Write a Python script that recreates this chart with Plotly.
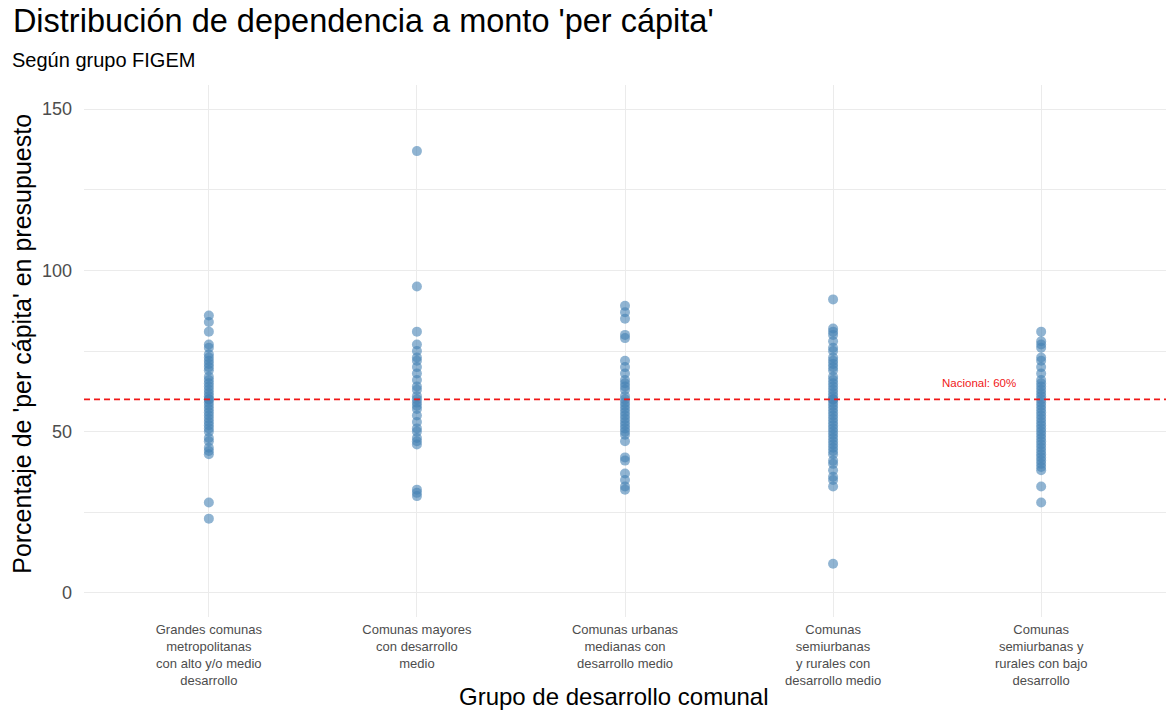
import plotly.graph_objects as go

categories = [
    "Grandes comunas<br>metropolitanas<br>con alto y/o medio<br>desarrollo",
    "Comunas mayores<br>con desarrollo<br>medio",
    "Comunas urbanas<br>medianas con<br>desarrollo medio",
    "Comunas<br>semiurbanas<br>y rurales con<br>desarrollo medio",
    "Comunas<br>semiurbanas y<br>rurales con bajo<br>desarrollo",
]

grupo1 = [86, 84, 81, 77, 76, 74, 73, 72, 71, 70, 69, 67, 66, 65, 64, 63, 62, 61, 60, 60,
          59, 58, 57, 56, 55, 54, 53, 52, 51, 50, 48, 47, 45, 44, 43, 28, 23]
grupo2 = [137, 95, 81, 77, 75, 73, 72, 70, 68, 66, 64, 63, 61, 60, 59, 58, 57, 55, 53, 51,
          50, 48, 47, 46, 32, 31, 30]
grupo3 = [89, 87, 85, 80, 79, 72, 70, 68, 66, 65, 64, 63, 61, 60, 59, 58, 57, 56, 55, 54,
          53, 52, 51, 50, 49, 47, 42, 41, 37, 35, 33, 32]
grupo4 = [91, 82, 81, 80, 78, 76, 75, 73, 72, 71, 70, 69, 67, 66, 65, 64, 63, 62, 61, 60,
          60, 59, 58, 57, 56, 55, 54, 53, 52, 51, 50, 49, 48, 47, 46, 45, 44, 43, 41, 40,
          38, 36, 35, 33, 9]
grupo5 = [81, 78, 77, 76, 73, 72, 70, 68, 66, 65, 64, 63, 62, 61, 60, 59, 58, 57, 56, 55,
          54, 53, 52, 51, 50, 49, 48, 47, 46, 45, 44, 43, 42, 41, 40, 39, 38, 33, 28]
grupos = [grupo1, grupo2, grupo3, grupo4, grupo5]

nacional = 60
nacional_label = "Nacional: 60%"
y_ticks = [0, 50, 100, 150]

FONT = "Liberation Sans, Arial, sans-serif"

xs, ys = [], []
for i, g in enumerate(grupos):
    xs += [i] * len(g)
    ys += g

fig = go.Figure()
fig.add_trace(go.Scatter(
    x=xs, y=ys, mode="markers",
    marker=dict(color="#4682B4", size=10, opacity=0.6, line=dict(width=0)),
    showlegend=False, hoverinfo="y",
))

fig.add_shape(type="line", xref="paper", x0=0, x1=1, yref="y", y0=nacional, y1=nacional,
              line=dict(color="#F01818", width=1.8, dash="6px,4px"), layer="above")

fig.add_annotation(x=3.70, y=65, xref="x", yref="y", text=nacional_label, showarrow=False,
                   font=dict(family=FONT, size=11.5, color="#F01818"))

# Subtitle and axis titles
fig.add_annotation(x=-0.068, y=1.047, xref="paper", yref="paper", xanchor="left", yanchor="middle",
                   text="Según grupo FIGEM", showarrow=False,
                   font=dict(family=FONT, size=20, color="#000000"))
fig.add_annotation(x=0.49, y=-0.150, xref="paper", yref="paper", xanchor="center", yanchor="middle",
                   text="Grupo de desarrollo comunal", showarrow=False,
                   font=dict(family=FONT, size=24, color="#000000"))
fig.add_annotation(x=-0.058, y=0.514, xref="paper", yref="paper", xanchor="center", yanchor="middle",
                   text="Porcentaje de 'per cápita' en presupuesto", showarrow=False, textangle=-90,
                   font=dict(family=FONT, size=25, color="#000000"))

fig.update_layout(
    width=1171, height=712,
    margin=dict(l=84, r=5, t=85, b=95, autoexpand=False),
    plot_bgcolor="white", paper_bgcolor="white",
    font=dict(family=FONT),
    title=dict(
        text="Distribución de dependencia a monto 'per cápita'",
        x=0.011, xref="container", xanchor="left",
        y=0.9705, yref="container", yanchor="middle",
        font=dict(family=FONT, size=32.5, color="#000000"),
    ),
)
fig.update_xaxes(
    range=[-0.6, 4.6], tickvals=list(range(5)), ticktext=categories,
    showgrid=True, gridcolor="#EBEBEB", gridwidth=1, zeroline=False, showline=False,
    ticks="", tickfont=dict(family=FONT, size=13, color="#4D4D4D"),
    ticklabelstandoff=3, automargin=False,
)
fig.update_yaxes(
    range=[-7.5, 157.5], tickvals=y_ticks,
    showgrid=True, gridcolor="#EBEBEB", gridwidth=1, zeroline=False, showline=False,
    ticks="", tickfont=dict(family=FONT, size=18, color="#4D4D4D"),
    ticklabelstandoff=11, automargin=False,
    minor=dict(tickvals=[25, 75, 125], showgrid=True, gridcolor="#EBEBEB", gridwidth=1),
)

# remove the browser's default 8px body margin so the figure fills the window exactly
fig.write_html("out.html", config={"displayModeBar": False},
               post_script="document.body.style.margin='0px';")
